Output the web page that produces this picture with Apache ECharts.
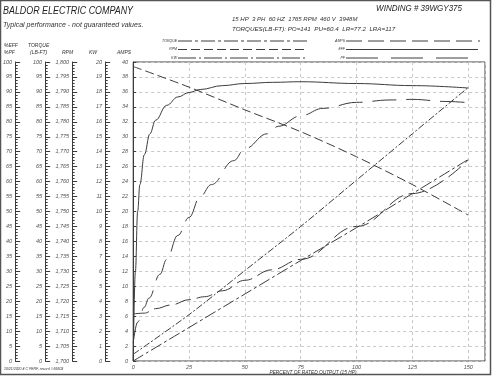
<!DOCTYPE html>
<html><head><meta charset="utf-8">
<script src="https://cdn.jsdelivr.net/npm/echarts@6/dist/echarts.min.js"></script>
<style>html,body{margin:0;padding:0;background:#fff}#c{width:492px;height:376px}</style>
</head><body><div id="c"></div>
<script>
// ---- data ----
const xTicks = [0, 25, 50, 75, 100, 125, 150];
const loadPts = [0, 25, 50, 75, 100, 125, 150];
const torqueLbFt = [0, 11.2, 22.4, 33.6, 44.6, 56.0, 67.4];
const speedRpm = [1798.5, 1791.6, 1784.0, 1776.7, 1768.3, 1759.0, 1748.8];
const kwInput = [0.45, 3.1, 6.05, 9.0, 12.1, 15.2, 18.3];
const ampLoad = [0, 5, 10, 17, 25, 32, 40, 50, 62, 75, 100, 125, 150];
const ampsVal = [6.3, 6.4, 7.0, 7.5, 8.2, 8.6, 9.4, 10.8, 12.2, 13.6, 18.0, 22.4, 26.9];
const effLoad = [0, 1, 2, 3, 5, 7.5, 10, 15, 20, 25, 30, 40, 50, 62.5, 75, 100, 125, 150];
const effPct = [0, 30, 50, 59, 69, 76, 80.5, 85.5, 88.3, 89.8, 90.8, 92.1, 92.8, 93.2, 93.4, 92.8, 92.1, 91.3];
const pfLoad = [0, 2, 5, 7, 12, 15, 20, 25, 30, 35, 45, 50, 60, 65, 75, 85, 100, 115, 125, 140, 150];
const pfPct = [6, 13, 18, 21, 29, 34, 42, 48, 55, 59, 67, 71, 76, 78.5, 82, 84.5, 86.5, 87.3, 87.5, 86.8, 86.4];
const pctTicks = [0, 100, 5];
const rpmTicks = [1700, 1800, 5];
const kwTicks = [0, 20, 1];
const ampTicks = [0, 40, 2];

const zip = (a, b) => a.map((v, i) => [v, b[i]]);
const INK = '#3c3c3c';
const FONT = 'Liberation Sans';

function sideAxis(offset, rng, fmt, extra) {
  return Object.assign({
    type: 'value', position: 'left', offset: offset,
    min: rng[0], max: rng[1], interval: rng[2],
    axisLine: { show: true, lineStyle: { color: INK, width: 1 } },
    axisTick: { show: true, inside: true, length: 5, lineStyle: { color: INK } },
    minorTick: { show: true, splitNumber: 5, length: 2.5, lineStyle: { color: INK } },
    axisLabel: { show: true, interval: 0, margin: 3, fontSize: 5.5, color: '#555', fontStyle: 'italic', fontFamily: FONT, formatter: fmt },
    splitLine: { show: false }
  }, extra || {});
}
const commas = v => v.toLocaleString('en-US');

const txt = (x, y, s, size, align, extra, sx) => ({
  type: 'text', x: x, y: y, scaleX: sx || 1,
  style: Object.assign({ text: s, fontSize: size, fontFamily: FONT, fontStyle: 'italic', fill: '#333', textAlign: align || 'left', textVerticalAlign: 'middle' }, extra || {})
});
const lg = (x1, x2, y, dash) => ({
  type: 'line', shape: { x1: x1, y1: y, x2: x2, y2: y },
  style: { stroke: INK, lineWidth: 1, lineDash: dash }
});

const chart = echarts.init(document.getElementById('c'), null, { renderer: 'canvas' });
chart.setOption({
  animation: false,
  backgroundColor: '#fff',
  grid: { left: 131, top: 62, width: 354, height: 299, show: true, borderColor: '#444', borderWidth: 1, backgroundColor: 'transparent' },
  xAxis: {
    type: 'value', min: 0, max: 157.5, interval: 25,
    axisLine: { show: false }, axisTick: { show: false },
    axisLabel: { fontSize: 5.5, color: '#555', margin: 3, fontStyle: 'italic', fontFamily: FONT, showMaxLabel: false },
    splitLine: { show: true, lineStyle: { color: '#c8c8c8', type: [3, 3], width: 1 } }
  },
  yAxis: [
    sideAxis(0, ampTicks, v => String(v), {
      minorTick: { show: false },
      axisTick: { show: true, inside: true, length: 3, lineStyle: { color: INK } },
      axisLabel: { show: true, interval: 0, margin: 5, fontSize: 5.5, color: '#555', fontStyle: 'italic', fontFamily: FONT },
      splitLine: { show: true, lineStyle: { color: '#c8c8c8', type: [3, 3], width: 1 } }
    }),
    sideAxis(118, pctTicks, v => String(v)),
    sideAxis(88, pctTicks, v => String(v)),
    sideAxis(61, rpmTicks, commas),
    sideAxis(28, kwTicks, v => String(v))
  ],
  series: [
    { name: 'EFF', type: 'line', yAxisIndex: 1, data: zip(effLoad, effPct), smooth: 0.4, smoothMonotone: 'x', showSymbol: false, lineStyle: { color: INK, width: 1 } },
    { name: 'PF', type: 'line', yAxisIndex: 1, data: zip(pfLoad, pfPct), smooth: 0.4, smoothMonotone: 'x', showSymbol: false, lineStyle: { color: INK, width: 1, type: [24, 10] } },
    { name: 'RPM', type: 'line', yAxisIndex: 3, data: zip(loadPts, speedRpm), smooth: 0.3, showSymbol: false, lineStyle: { color: INK, width: 1, type: [9, 4] } },
    { name: 'TORQUE', type: 'line', yAxisIndex: 2, data: zip(loadPts, torqueLbFt), smooth: 0.3, showSymbol: false, lineStyle: { color: INK, width: 1, type: [12, 3, 3, 3] } },
    { name: 'KW', type: 'line', yAxisIndex: 4, data: zip(loadPts, kwInput), smooth: 0.3, showSymbol: false, lineStyle: { color: INK, width: 1, type: [7, 2, 2, 2] } },
    { name: 'AMPS', type: 'line', yAxisIndex: 0, data: zip(ampLoad, ampsVal), smooth: 0.4, smoothMonotone: 'x', showSymbol: false, lineStyle: { color: INK, width: 1, type: [16, 6] } }
  ],
  graphic: [
    { type: 'rect', shape: { x: 0.5, y: 0.5, width: 490, height: 374 }, style: { fill: 'none', stroke: '#555', lineWidth: 1.5 }, silent: true },
    txt(3, 11, 'BALDOR ELECTRIC COMPANY', 11, 'left', { fill: '#222' }, 0.81),
    txt(3, 25, 'Typical performance - not guaranteed values.', 7, 'left'),
    txt(462, 8, 'WINDING # 39WGY375', 9, 'right', { fill: '#222' }, 0.89),
    txt(232, 19, '15 HP  3 PH  60 HZ  1765 RPM  460 V  3948M', 6, 'left'),
    txt(232, 29, 'TORQUES(LB-FT): PO=141  PU=60.4  LR=77.2  LRA=117', 6, 'left', { }, 1.04),
    txt(177, 41, 'TORQUE', 3.5, 'right'), lg(178, 308, 41, [14, 3, 3, 3]),
    txt(177, 49.5, 'RPM', 3.5, 'right'), lg(178, 308, 49.5, [9, 4]),
    txt(177, 58, 'KW', 3.5, 'right'), lg(178, 308, 58, [18, 3, 2, 3]),
    txt(345, 41, 'AMPS', 3.5, 'right'), lg(346, 480, 41, [16, 6]),
    txt(345, 49.5, 'EFF', 3.5, 'right'), lg(346, 478, 49.5, []),
    txt(345, 58, 'PF', 3.5, 'right'), lg(346, 468, 58, [32, 13]),
    txt(4, 45.5, '%EFF', 5, 'left'),
    txt(4, 52.5, '%PF', 5, 'left'),
    txt(28, 45.5, 'TORQUE', 5, 'left'),
    txt(30, 52.5, '(LB-FT)', 5, 'left'),
    txt(62, 52.5, 'RPM', 5, 'left'),
    txt(89, 52.5, 'KW', 5, 'left'),
    txt(117, 52.5, 'AMPS', 5, 'left'),
    txt(4, 369, '10/21/2020 4 C PERF, record # 66603', 3.5, 'left'),
    txt(313, 372.5, 'PERCENT OF RATED OUTPUT (15 HP)', 4.8, 'center')
  ]
});
</script>
</body></html>
